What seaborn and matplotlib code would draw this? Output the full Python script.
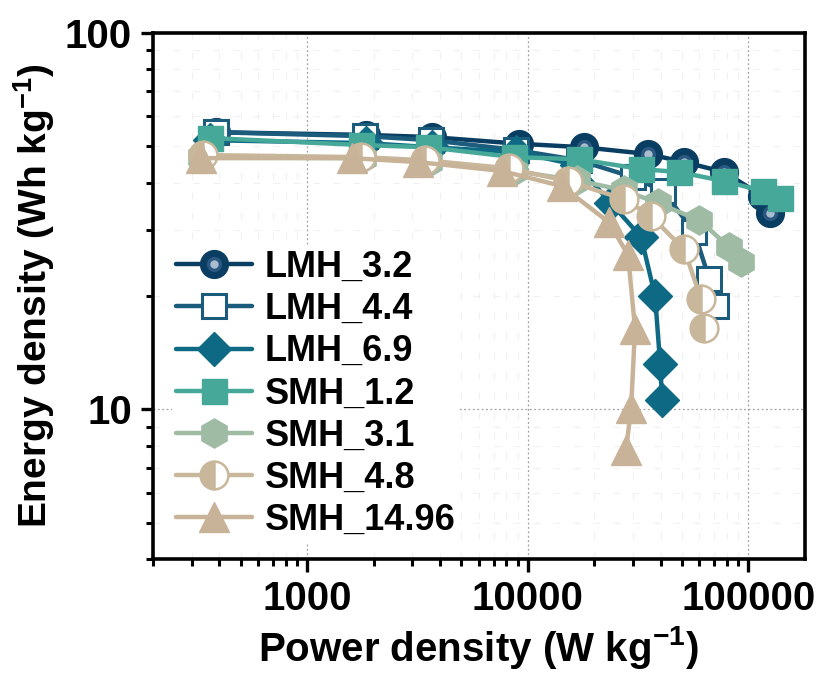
import matplotlib
matplotlib.use("Agg")
import matplotlib.pyplot as plt
from matplotlib.ticker import FixedLocator, FixedFormatter, NullFormatter
from matplotlib.legend_handler import HandlerTuple
import seaborn as sns

# Ragone data: power density (W/kg) and energy density (Wh/kg)
labels = ["LMH_3.2", "LMH_4.4", "LMH_6.9", "SMH_1.2", "SMH_3.1", "SMH_4.8", "SMH_14.96"]

power_lmh_32 = [386, 1855, 3662, 9100, 17970, 35100, 51170, 77800, 115800, 125900]
energy_lmh_32 = [54.5, 53.6, 52.9, 50.8, 49.7, 47.7, 45.4, 42.7, 36.9, 33.2]

power_lmh_44 = [386, 1835, 3624, 8818, 17050, 30000, 41080, 56830, 66480, 71530]
energy_lmh_44 = [54.5, 53.2, 51.9, 48.9, 45.9, 41.4, 38.0, 29.6, 22.2, 18.8]

power_lmh_69 = [362, 1855, 3662, 8818, 16700, 23850, 32630, 37760, 39810, 40640]
energy_lmh_69 = [51.9, 51.0, 49.7, 48.3, 44.6, 35.3, 28.7, 20.0, 13.2, 10.6]

power_smh_12 = [362, 1760, 3548, 8630, 17050, 32630, 48560, 77800, 117000, 139700]
energy_smh_12 = [52.6, 50.4, 49.7, 46.8, 46.2, 43.5, 42.7, 40.4, 38.0, 36.4]

power_smh_31 = [330, 1796, 3585, 8630, 16700, 27300, 38990, 59860, 81950, 92970]
energy_smh_31 = [46.8, 46.5, 45.4, 43.0, 40.6, 38.2, 35.3, 31.8, 27.0, 24.6]

power_smh_48 = [337, 1760, 3437, 8197, 15200, 27300, 36240, 51170, 61120, 63100]
energy_smh_48 = [47.4, 46.8, 45.9, 43.7, 40.4, 36.2, 32.6, 26.6, 19.6, 16.5]

power_smh_1496 = [330, 1601, 3196, 7617, 14270, 23350, 28480, 30630, 29400, 27870]
energy_smh_1496 = [46.5, 46.5, 45.4, 43.0, 39.2, 31.4, 25.7, 16.4, 10.1, 7.78]

x_ticks = [1000, 10000, 100000]
x_ticklabels = ["1000", "10000", "100000"]
y_ticks = [10, 100]
y_ticklabels = ["10", "100"]

sns.set_theme(style="white")
plt.rcParams["font.family"] = ["Liberation Sans", "DejaVu Sans"]
plt.rcParams["font.weight"] = "bold"
plt.rcParams["mathtext.default"] = "regular"
plt.rcParams["text.color"] = "black"
plt.rcParams["axes.labelcolor"] = "black"
plt.rcParams["xtick.color"] = "black"
plt.rcParams["ytick.color"] = "black"

fig = plt.figure(figsize=(8.22, 6.73), dpi=100)
ax = fig.add_axes([0.186, 0.169, 0.793, 0.782])
ax.set_xscale("log")
ax.set_yscale("log")

series = [
    (power_lmh_32, energy_lmh_32, dict(color="#0a3d62", marker="o", markersize=20,
                                       markerfacecolor="#0a3d62", markeredgecolor="#0a3d62",
                                       markeredgewidth=1)),
    (power_lmh_44, energy_lmh_44, dict(color="#1b5b7c", marker="s", markersize=17,
                                       markerfacecolor="white", markeredgecolor="#1b5b7c",
                                       markeredgewidth=2.2)),
    (power_lmh_69, energy_lmh_69, dict(color="#0e6a84", marker="D", markersize=17,
                                       markerfacecolor="#0e6a84", markeredgecolor="#0e6a84",
                                       markeredgewidth=1)),
    (power_smh_12, energy_smh_12, dict(color="#46a898", marker="s", markersize=18,
                                       markerfacecolor="#46a898", markeredgecolor="#46a898",
                                       markeredgewidth=1)),
    (power_smh_31, energy_smh_31, dict(color="#9fbba4", marker="h", markersize=21,
                                       markerfacecolor="#9fbba4", markeredgecolor="#9fbba4",
                                       markeredgewidth=1)),
    (power_smh_48, energy_smh_48, dict(color="#c9b79c", marker="o", markersize=20,
                                       fillstyle="left", markerfacecolor="#c9b79c",
                                       markerfacecoloralt="white", markeredgecolor="#c9b79c",
                                       markeredgewidth=1.8)),
    (power_smh_1496, energy_smh_1496, dict(color="#c8b398", marker="^", markersize=22,
                                           markerfacecolor="#c8b398", markeredgecolor="#c8b398",
                                           markeredgewidth=1)),
]

handles = []
for (px, ey, style), name in zip(series, labels):
    sns.lineplot(x=px, y=ey, ax=ax, sort=False, estimator=None, linewidth=3.2,
                 legend=False, **style)
    main_line = ax.lines[-1]
    if name == "LMH_3.2":
        # glossy highlight on the spheres
        sns.lineplot(x=px, y=ey, ax=ax, sort=False, estimator=None, linestyle="none",
                     marker="o", markersize=11, color="#2a5880", markeredgewidth=0,
                     legend=False)
        mid = ax.lines[-1]
        sns.lineplot(x=px, y=ey, ax=ax, sort=False, estimator=None, linestyle="none",
                     marker="o", markersize=6, color="#aabccd", markeredgewidth=0,
                     legend=False)
        top = ax.lines[-1]
        handles.append((main_line, mid, top))
    else:
        handles.append(main_line)

ax.set_xlim(200, 180000)
ax.set_ylim(4, 100)

ax.xaxis.set_major_locator(FixedLocator(x_ticks))
ax.xaxis.set_major_formatter(FixedFormatter(x_ticklabels))
ax.yaxis.set_major_locator(FixedLocator(y_ticks))
ax.yaxis.set_major_formatter(FixedFormatter(y_ticklabels))
x_minor = [m * 10 ** k for k in (2, 3, 4, 5) for m in range(2, 10)]
y_minor = [m * 10 ** k for k in (0, 1) for m in range(2, 10)]
ax.xaxis.set_minor_locator(FixedLocator(x_minor))
ax.yaxis.set_minor_locator(FixedLocator(y_minor))
ax.xaxis.set_minor_formatter(NullFormatter())
ax.yaxis.set_minor_formatter(NullFormatter())

ax.tick_params(axis="both", which="major", direction="out", length=9, width=2.4,
               color="black", labelcolor="black", labelsize=29, pad=6,
               bottom=True, left=True)
ax.tick_params(axis="both", which="minor", direction="out", length=5, width=2.2,
               color="black", bottom=True, left=True)
for lab in ax.get_xticklabels() + ax.get_yticklabels():
    lab.set_fontweight("bold")

ax.grid(True, which="major", linestyle=(0, (1.5, 2)), linewidth=0.9, color="#a0a0a0")
ax.grid(True, which="minor", linestyle=(0, (6, 12)), linewidth=0.8, color="#f0f0f0")
ax.set_axisbelow(True)

for sp in ax.spines.values():
    sp.set_visible(True)
    sp.set_linewidth(2.6)
    sp.set_color("black")

ax.set_xlabel("Power density (W kg$^{-1}$)", fontsize=29, fontweight="bold",
              color="black", labelpad=4)
ax.set_ylabel("Energy density (Wh kg$^{-1}$)", fontsize=28, fontweight="bold",
              color="black", labelpad=6)

leg = ax.legend(handles, labels, loc="upper left", bbox_to_anchor=(0.03, 0.595),
                fontsize=26, frameon=True, framealpha=1, facecolor="white",
                edgecolor="none", borderpad=0.1, borderaxespad=0, handlelength=2.1,
                handletextpad=0.35, labelspacing=0.2,
                handler_map={tuple: HandlerTuple(ndivide=1)})
for t in leg.get_texts():
    t.set_fontweight("bold")
    t.set_color("black")

fig.savefig("out.png", dpi=100)
